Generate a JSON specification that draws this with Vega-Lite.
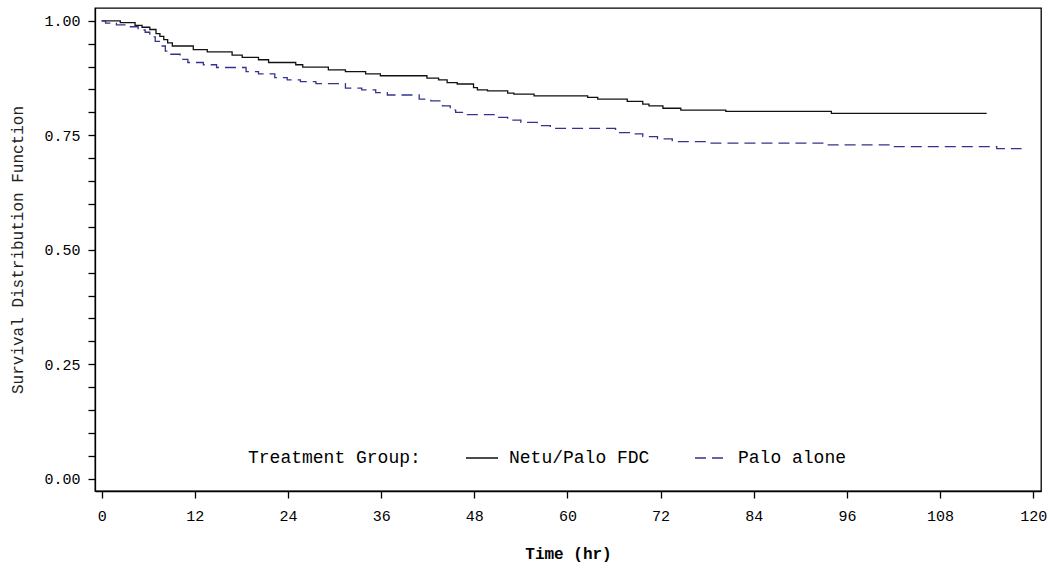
{
  "$schema": "https://vega.github.io/schema/vega-lite/v6.json",
  "width": 946,
  "height": 483,
  "autosize": {"type": "none"},
  "padding": {"left": 95, "top": 8, "right": 9, "bottom": 79},
  "background": "white",
  "config": {
    "view": {"stroke": "black", "strokeWidth": 1.3},
    "font": "Liberation Mono"
  },
  "data": {
    "values": [
      {"group": "Netu/Palo FDC", "time": 0, "survival": 1.0},
      {"group": "Netu/Palo FDC", "time": 2.4, "survival": 0.996},
      {"group": "Netu/Palo FDC", "time": 4.3, "survival": 0.99},
      {"group": "Netu/Palo FDC", "time": 5.2, "survival": 0.986},
      {"group": "Netu/Palo FDC", "time": 6.2, "survival": 0.981},
      {"group": "Netu/Palo FDC", "time": 7.0, "survival": 0.972},
      {"group": "Netu/Palo FDC", "time": 7.5, "survival": 0.966},
      {"group": "Netu/Palo FDC", "time": 8.0, "survival": 0.959},
      {"group": "Netu/Palo FDC", "time": 8.5, "survival": 0.952},
      {"group": "Netu/Palo FDC", "time": 9.1, "survival": 0.945},
      {"group": "Netu/Palo FDC", "time": 11.8, "survival": 0.937},
      {"group": "Netu/Palo FDC", "time": 13.6, "survival": 0.932},
      {"group": "Netu/Palo FDC", "time": 16.8, "survival": 0.925},
      {"group": "Netu/Palo FDC", "time": 18.1, "survival": 0.92},
      {"group": "Netu/Palo FDC", "time": 20.2, "survival": 0.915},
      {"group": "Netu/Palo FDC", "time": 21.5, "survival": 0.909},
      {"group": "Netu/Palo FDC", "time": 25.0, "survival": 0.904},
      {"group": "Netu/Palo FDC", "time": 25.9, "survival": 0.899},
      {"group": "Netu/Palo FDC", "time": 29.2, "survival": 0.893},
      {"group": "Netu/Palo FDC", "time": 31.4, "survival": 0.889},
      {"group": "Netu/Palo FDC", "time": 34.0, "survival": 0.884},
      {"group": "Netu/Palo FDC", "time": 35.9, "survival": 0.88},
      {"group": "Netu/Palo FDC", "time": 41.9, "survival": 0.875},
      {"group": "Netu/Palo FDC", "time": 43.4, "survival": 0.871},
      {"group": "Netu/Palo FDC", "time": 44.5, "survival": 0.865},
      {"group": "Netu/Palo FDC", "time": 45.8, "survival": 0.862},
      {"group": "Netu/Palo FDC", "time": 47.9, "survival": 0.854},
      {"group": "Netu/Palo FDC", "time": 48.4, "survival": 0.849},
      {"group": "Netu/Palo FDC", "time": 49.7, "survival": 0.847},
      {"group": "Netu/Palo FDC", "time": 52.3, "survival": 0.842},
      {"group": "Netu/Palo FDC", "time": 53.1, "survival": 0.84},
      {"group": "Netu/Palo FDC", "time": 55.7, "survival": 0.836},
      {"group": "Netu/Palo FDC", "time": 62.6, "survival": 0.833},
      {"group": "Netu/Palo FDC", "time": 63.9, "survival": 0.829},
      {"group": "Netu/Palo FDC", "time": 67.7, "survival": 0.824},
      {"group": "Netu/Palo FDC", "time": 69.7, "survival": 0.818},
      {"group": "Netu/Palo FDC", "time": 70.5, "survival": 0.814},
      {"group": "Netu/Palo FDC", "time": 72.3, "survival": 0.809},
      {"group": "Netu/Palo FDC", "time": 74.6, "survival": 0.805},
      {"group": "Netu/Palo FDC", "time": 80.4, "survival": 0.802},
      {"group": "Netu/Palo FDC", "time": 94.0, "survival": 0.798},
      {"group": "Netu/Palo FDC", "time": 114.0, "survival": 0.798},
      {"group": "Palo alone", "time": 0, "survival": 1.0},
      {"group": "Palo alone", "time": 0.5, "survival": 0.995},
      {"group": "Palo alone", "time": 1.9, "survival": 0.991},
      {"group": "Palo alone", "time": 3.2, "survival": 0.987},
      {"group": "Palo alone", "time": 4.7, "survival": 0.98},
      {"group": "Palo alone", "time": 5.6, "survival": 0.975},
      {"group": "Palo alone", "time": 6.2, "survival": 0.965},
      {"group": "Palo alone", "time": 6.9, "survival": 0.955},
      {"group": "Palo alone", "time": 7.7, "survival": 0.945},
      {"group": "Palo alone", "time": 8.2, "survival": 0.934},
      {"group": "Palo alone", "time": 8.4, "survival": 0.927},
      {"group": "Palo alone", "time": 10.1, "survival": 0.916},
      {"group": "Palo alone", "time": 11.1, "survival": 0.909},
      {"group": "Palo alone", "time": 13.1, "survival": 0.904},
      {"group": "Palo alone", "time": 14.8, "survival": 0.898},
      {"group": "Palo alone", "time": 18.6, "survival": 0.889},
      {"group": "Palo alone", "time": 20.2, "survival": 0.884},
      {"group": "Palo alone", "time": 22.3, "survival": 0.876},
      {"group": "Palo alone", "time": 23.9, "survival": 0.871},
      {"group": "Palo alone", "time": 25.6, "survival": 0.867},
      {"group": "Palo alone", "time": 27.6, "survival": 0.863},
      {"group": "Palo alone", "time": 31.4, "survival": 0.853},
      {"group": "Palo alone", "time": 33.5, "survival": 0.849},
      {"group": "Palo alone", "time": 35.3, "survival": 0.843},
      {"group": "Palo alone", "time": 36.8, "survival": 0.838},
      {"group": "Palo alone", "time": 40.9, "survival": 0.829},
      {"group": "Palo alone", "time": 42.4, "survival": 0.825},
      {"group": "Palo alone", "time": 43.9, "survival": 0.814},
      {"group": "Palo alone", "time": 44.9, "survival": 0.805},
      {"group": "Palo alone", "time": 45.6, "survival": 0.8},
      {"group": "Palo alone", "time": 46.7, "survival": 0.795},
      {"group": "Palo alone", "time": 50.7, "survival": 0.789},
      {"group": "Palo alone", "time": 52.3, "survival": 0.783},
      {"group": "Palo alone", "time": 54.0, "survival": 0.778},
      {"group": "Palo alone", "time": 56.1, "survival": 0.771},
      {"group": "Palo alone", "time": 57.8, "survival": 0.765},
      {"group": "Palo alone", "time": 66.2, "survival": 0.756},
      {"group": "Palo alone", "time": 68.2, "survival": 0.753},
      {"group": "Palo alone", "time": 69.7, "survival": 0.747},
      {"group": "Palo alone", "time": 71.6, "survival": 0.742},
      {"group": "Palo alone", "time": 73.5, "survival": 0.736},
      {"group": "Palo alone", "time": 78.1, "survival": 0.733},
      {"group": "Palo alone", "time": 93.5, "survival": 0.729},
      {"group": "Palo alone", "time": 101.9, "survival": 0.725},
      {"group": "Palo alone", "time": 115.3, "survival": 0.721},
      {"group": "Palo alone", "time": 118.5, "survival": 0.721}
    ]
  },
  "mark": {"type": "line", "interpolate": "step-after", "strokeWidth": 1.3},
  "encoding": {
    "x": {
      "field": "time",
      "type": "quantitative",
      "scale": {"domain": [-0.86, 121], "nice": false, "zero": false},
      "axis": {
        "values": [0, 12, 24, 36, 48, 60, 72, 84, 96, 108, 120],
        "title": "Time (hr)",
        "grid": false,
        "tickSize": 7,
        "tickWidth": 1.3,
        "tickColor": "black",
        "domainColor": "black",
        "domainWidth": 1.3,
        "labelFont": "Liberation Mono",
        "labelFontSize": 15,
        "labelColor": "black",
        "labelPadding": 10,
        "labelFlush": false,
        "titleFont": "Liberation Mono",
        "titleFontSize": 16,
        "titleFontWeight": "bold",
        "titleColor": "black",
        "titlePadding": 22
      }
    },
    "y": {
      "field": "survival",
      "type": "quantitative",
      "scale": {"domain": [-0.027, 1.028], "nice": false, "zero": false},
      "axis": {
        "values": [0, 0.05, 0.1, 0.15, 0.2, 0.25, 0.3, 0.35, 0.4, 0.45, 0.5, 0.55, 0.6, 0.65, 0.7, 0.75, 0.8, 0.85, 0.9, 0.95, 1.0],
        "labelExpr": "abs(datum.value * 4 - round(datum.value * 4)) < 0.001 ? format(datum.value, '.2f') : ''",
        "title": "Survival Distribution Function",
        "grid": false,
        "tickSize": 7,
        "tickWidth": 1.3,
        "tickColor": "black",
        "domainColor": "black",
        "domainWidth": 1.3,
        "labelFont": "Liberation Mono",
        "labelFontSize": 15,
        "labelColor": "black",
        "labelPadding": 8,
        "labelFlush": false,
        "titleFont": "Liberation Mono",
        "titleFontSize": 16,
        "titleFontWeight": "normal",
        "titleColor": "#222222",
        "titlePadding": 18
      }
    },
    "color": {
      "field": "group",
      "type": "nominal",
      "scale": {"domain": ["Netu/Palo FDC", "Palo alone"], "range": ["#111111", "#33338f"]},
      "legend": {
        "orient": "none",
        "legendX": 153,
        "legendY": 433,
        "direction": "horizontal",
        "title": "Treatment Group:",
        "titleOrient": "left",
        "titleAnchor": "end",
        "titleBaseline": "bottom",
        "titleFont": "Liberation Mono",
        "titleFontSize": 18,
        "titleFontWeight": "normal",
        "titleColor": "black",
        "titlePadding": 44,
        "labelFont": "Liberation Mono",
        "labelFontSize": 18,
        "labelColor": "black",
        "labelOffset": 10,
        "symbolType": "stroke",
        "symbolSize": 1024,
        "symbolStrokeWidth": 1.3,
        "columnPadding": 42
      }
    },
    "strokeDash": {
      "field": "group",
      "type": "nominal",
      "scale": {"domain": ["Netu/Palo FDC", "Palo alone"], "range": [[1, 0], [11, 6]]},
      "legend": {
        "orient": "none",
        "legendX": 153,
        "legendY": 433,
        "direction": "horizontal",
        "title": "Treatment Group:",
        "titleOrient": "left",
        "titleAnchor": "end",
        "titleBaseline": "bottom",
        "titleFont": "Liberation Mono",
        "titleFontSize": 18,
        "titleFontWeight": "normal",
        "titleColor": "black",
        "titlePadding": 44,
        "labelFont": "Liberation Mono",
        "labelFontSize": 18,
        "labelColor": "black",
        "labelOffset": 10,
        "symbolType": "stroke",
        "symbolSize": 1024,
        "symbolStrokeWidth": 1.3,
        "columnPadding": 42
      }
    }
  }
}
